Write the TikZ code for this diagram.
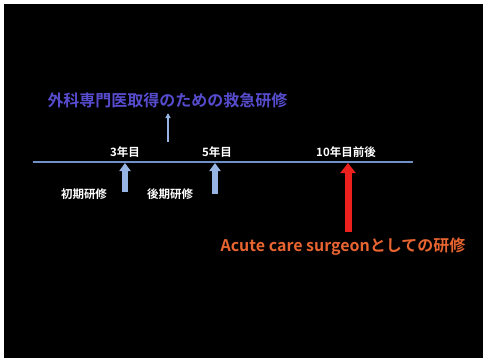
\documentclass[tikz,border=0pt]{standalone}
\usepackage{fontspec}
\setmainfont{Noto Sans CJK JP}[BoldFont={Noto Sans CJK JP Bold}]
\usetikzlibrary{arrows.meta,positioning}
\definecolor{titleblue}{RGB}{86,76,205}
\definecolor{axisblue}{RGB}{112,144,200}
\definecolor{arrowblue}{RGB}{150,180,228}
\definecolor{acutered}{RGB}{236,32,28}
\definecolor{acuteorange}{RGB}{232,100,48}

\begin{document}
\begin{tikzpicture}[x=1pt, y=-1pt, inner sep=0pt, node distance=4pt,
	lbl/.style = {text=white, font=\bfseries\fontsize{11.5}{12}\selectfont},
	yeararrow/.style = {draw=arrowblue, line width=6pt, -{Triangle[width=11pt, length=8pt]}},
	thinarrow/.style = {draw=arrowblue, line width=1.3pt, -{Triangle[width=5pt, length=5pt]}}]
	\fill[white] (0,0) rectangle (483,360);
	\fill[black] (4,4) rectangle (483,358);
	% time line
	\coordinate (start) at (33,162);
	\coordinate (end) at (413,162);
	\draw[axisblue, line width=1.8pt] (start) -- (end);
	\coordinate (t3) at (125,163);
	\coordinate (t5) at (215,163);
	\coordinate (t10) at (348,163);
	\coordinate (b3) at (125,192);
	\coordinate (b5) at (215,194);
	\coordinate (b10) at (348,232);
	\node[lbl] (y3) [above=5pt of t3] {3年目};
	\node[lbl] (y5) [above=5pt of t5, xshift=2pt] {5年目};
	\node[lbl] (y10) [above=5pt of t10, xshift=-2pt] {10年目前後};
	\node[lbl] (early) at (84,194) {初期研修};
	\node[lbl] (late) at (170,194) {後期研修};
	\node[text=titleblue, font=\bfseries\fontsize{16}{18}\selectfont] (title) at (167.5,100.5) {外科専門医取得のための救急研修};
	\node[text=acuteorange, font=\bfseries\fontsize{16}{18}\selectfont] (acute) at (343,247) {Acute care surgeonとしての研修};
	\coordinate (up0) at (168,142);
	\coordinate (up1) at (168,113);
	\draw[thinarrow] (up0) -- (up1);
	\draw[yeararrow] (b3) -- (t3);
	\draw[yeararrow] (b5) -- (t5);
	\draw[acutered, line width=7pt, -{Triangle[width=15pt, length=10pt]}] (b10) -- (t10);
\end{tikzpicture}
\end{document}
